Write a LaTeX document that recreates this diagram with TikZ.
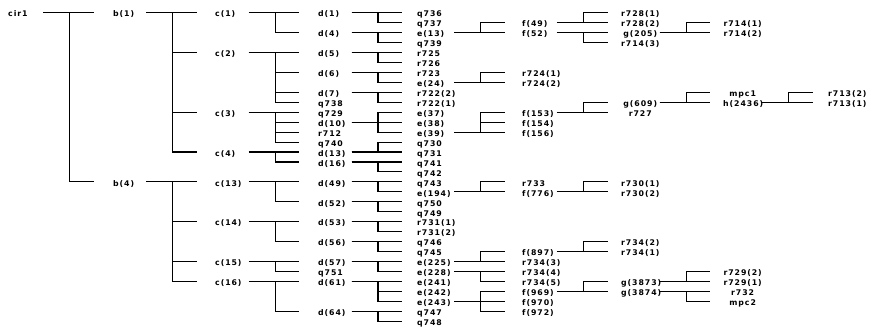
\documentclass[tikz,border=0pt]{standalone}
\usepackage{fontspec}
\newfontfamily\plotfont{DejaVu Sans}[LetterSpace=12]

\begin{document}
\begin{tikzpicture}[
    x=1pt, y=-1pt,
    lbl/.style={anchor=west, inner xsep=0pt, inner ysep=0pt, text height=8.6pt, text depth=0pt,
                font=\plotfont\bfseries\fontsize{7.8}{8}\selectfont},
    lv/.style={lbl, text width=#1, align=left},
    lvc/.style={lbl, text width=#1, align=center},
    br/.style={line width=1.1pt, shorten >=#1,
               to path={(\tikztostart.east) -- ++(26.5,0) |- (\tikztotarget.west)}}
]
\useasboundingbox (0,0) rectangle (871,329);

% labels, one column per level
\node[lv=35pt] (cir1) at (8,12.7) {cir1};
\foreach \nm/\tx/\rw in {b1/b(1)/0, b4/b(4)/17}
  \node[lv=32.7pt] (\nm) at (113,{12.7+9.95*\rw}) {\tx};
\foreach \nm/\tx/\rw in {c1/c(1)/0, c2/c(2)/4, c3/c(3)/10, c4/c(4)/14,
                         c13/c(13)/17, c14/c(14)/21, c15/c(15)/25, c16/c(16)/27}
  \node[lv=33.4pt] (\nm) at (215,{12.7+9.95*\rw}) {\tx};
\foreach \nm/\tx/\rw in {d1/d(1)/0, d4/d(4)/2, d5/d(5)/4, d6/d(6)/6, d7/d(7)/8, q738/q738/9,
                         q729/q729/10, d10/d(10)/11, r712/r712/12, q740/q740/13, d13/d(13)/14,
                         d16/d(16)/15, d49/d(49)/17, d52/d(52)/19, d53/d(53)/21, d56/d(56)/23,
                         d57/d(57)/25, q751/q751/26, d61/d(61)/27, d64/d(64)/30}
  \node[lv=33.1pt] (\nm) at (318,{12.7+9.95*\rw}) {\tx};
\foreach \nm/\tx/\rw in {q736/q736/0, q737/q737/1, e13/e(13)/2, q739/q739/3, r725/r725/4,
                         r726/r726/5, r723/r723/6, e24/e(24)/7, r722-2/r722(2)/8, r722-1/r722(1)/9,
                         e37/e(37)/10, e38/e(38)/11, e39/e(39)/12, q730/q730/13, q731/q731/14,
                         q741/q741/15, q742/q742/16, q743/q743/17, e194/e(194)/18, q750/q750/19,
                         q749/q749/20, r731-1/r731(1)/21, r731-2/r731(2)/22, q746/q746/23,
                         q745/q745/24, e225/e(225)/25, e228/e(228)/26, e241/e(241)/27,
                         e242/e(242)/28, e243/e(243)/29, q747/q747/30, q748/q748/31}
  \node[lv=36.8pt] (\nm) at (417,{12.7+9.95*\rw}) {\tx};
\foreach \nm/\tx/\rw in {f49/f(49)/1, f52/f(52)/2, r724-1/r724(1)/6, r724-2/r724(2)/7,
                         f153/f(153)/10, f154/f(154)/11, f156/f(156)/12, r733/r733/17,
                         f776/f(776)/18, f897/f(897)/24, r734-3/r734(3)/25, r734-4/r734(4)/26,
                         r734-5/r734(5)/27, f969/f(969)/28, f970/f(970)/29, f972/f(972)/30}
  \node[lv=34.5pt] (\nm) at (522,{12.7+9.95*\rw}) {\tx};
\foreach \nm/\tx/\rw in {r728-1/r728(1)/0, r728-2/r728(2)/1, g205/g(205)/2, r714-3/r714(3)/3,
                         g609/g(609)/9, r727/r727/10, r730-1/r730(1)/17, r730-2/r730(2)/18,
                         r734-2/r734(2)/23, r734-1/r734(1)/24, g3873/g(3873)/27, g3874/g(3874)/28}
  \node[lvc=38.2pt] (\nm) at (621,{12.7+9.95*\rw}) {\tx};
\foreach \nm/\tx/\rw in {r714-1/r714(1)/1, r714-2/r714(2)/2, mpc1/mpc1/8, h2436/h(2436)/9,
                         r729-2/r729(2)/26, r729-1/r729(1)/27, r732/r732/28, mpc2/mpc2/29}
  \node[lvc=38.9pt] (\nm) at (723,{12.7+9.95*\rw}) {\tx};
\foreach \nm/\tx/\rw in {r713-2/r713(2)/8, r713-1/r713(1)/9}
  \node[lv=40pt] (\nm) at (828,{12.7+9.95*\rw}) {\tx};

% branches
\foreach \src/\dst in {cir1/b1, cir1/b4}
  \draw[br=19pt] (\src) to (\dst);
\foreach \src/\dst in {b1/c1, b1/c2, b1/c3, b1/c4, b4/c13, b4/c14, b4/c15, b4/c16}
  \draw[br=18.3pt] (\src) to (\dst);
\foreach \src/\dst in {c1/d1, c1/d4, c2/d5, c2/d6, c2/d7, c2/q738, c3/q729, c3/d10, c3/r712,
                       c3/q740, c4/d13, c4/d16, c13/d49, c13/d52, c14/d53, c14/d56, c15/d57,
                       c15/q751, c16/d61, c16/d64}
  \draw[br=18.6pt] (\src) to (\dst);
\foreach \src/\dst in {d1/q736, d1/q737, d4/e13, d4/q739, d5/r725, d5/r726, d6/r723, d6/e24,
                       d7/r722-2, d7/r722-1, d10/e37, d10/e38, d10/e39, d13/q730, d13/q731,
                       d16/q741, d16/q742, d49/q743, d49/e194, d52/q750, d52/q749, d53/r731-1,
                       d53/r731-2, d56/q746, d56/q745, d57/e225, d57/e228, d61/e241, d61/e242,
                       d61/e243, d64/q747, d64/q748}
  \draw[br=14.9pt] (\src) to (\dst);
\foreach \src/\dst in {e13/f49, e13/f52, e24/r724-1, e24/r724-2, e39/f153, e39/f154, e39/f156,
                       e194/r733, e194/f776, e225/f897, e225/r734-3, e228/r734-4, e228/r734-5,
                       e243/f969, e243/f970, e243/f972}
  \draw[br=17.2pt] (\src) to (\dst);
\foreach \src/\dst in {f49/r728-1, f49/r728-2, f52/g205, f52/r714-3, f153/g609, f153/r727,
                       f776/r730-1, f776/r730-2, f897/r734-2, f897/r734-1, f969/g3873, f969/g3874}
  \draw[br=13.5pt] (\src) to (\dst);
\foreach \src/\dst in {g205/r714-1, g205/r714-2, g609/mpc1, g609/h2436, g3873/r729-2,
                       g3873/r729-1, g3874/r732, g3874/mpc2}
  \draw[br=12.8pt] (\src) to (\dst);
\foreach \src/\dst in {h2436/r713-2, h2436/r713-1}
  \draw[br=15.1pt] (\src) to (\dst);
\end{tikzpicture}
\end{document}
